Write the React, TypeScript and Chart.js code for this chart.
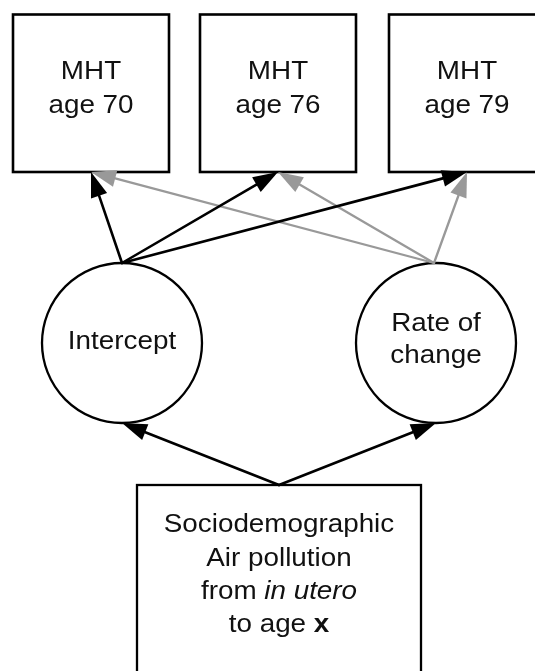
import { useEffect, useRef } from "react";
import { Chart, registerables } from "chart.js";

Chart.register(...registerables);

// ---------------- DATA ----------------
type Seg = { t: string; s?: "italic" | "bold" };

const outcomeNames = ["MHT age 70", "MHT age 76", "MHT age 79"];
const outcomeLabelLines: string[][] = [
  ["MHT", "age 70"],
  ["MHT", "age 76"],
  ["MHT", "age 79"],
];
const latentNames = ["Intercept", "Rate of change"];
const latentLabelLines: string[][] = [["Intercept"], ["Rate of", "change"]];
const predictorName = "Predictors";
const predictorLabelLines: Seg[][] = [
  [{ t: "Sociodemographic" }],
  [{ t: "Air pollution" }],
  [{ t: "from " }, { t: "in utero", s: "italic" }],
  [{ t: "to age " }, { t: "x", s: "bold" }],
];
// structural paths (from -> to)
const pathFrom = [
  "Predictors", "Predictors",
  "Rate of change", "Rate of change", "Rate of change",
  "Intercept", "Intercept", "Intercept",
];
const pathTo = [
  "Intercept", "Rate of change",
  "MHT age 70", "MHT age 76", "MHT age 79",
  "MHT age 70", "MHT age 76", "MHT age 79",
];
const pathKind = ["black", "black", "gray", "gray", "gray", "black", "black", "black"];

// ---------------- LAYOUT (plot units = page px) ----------------
const W = 535;
const H = 671;
const outcomeCenterX = [91, 278, 467];
const OUT_TOP = 14.5;
const OUT_BOTTOM = 172;
const OUT_HALF = 78;
const outcomeBaselines = [79, 113];
const latentCenterX = [122, 436];
const latentTopAnchorX = [122, 434];
const LAT_Y = 343;
const LAT_R = 80;
const latentBaselines: number[][] = [[349], [331, 363]];
const PRED_LEFT = 137;
const PRED_RIGHT = 421;
const PRED_TOP = 485;
const PRED_BOTTOM = 720;
const predictorBaselines = [532, 565.5, 599, 632];

const FONT_FAMILY = '"Liberation Sans", Arial, Helvetica, sans-serif';
const FONT_SIZE = 26;
const TEXT_STRETCH = 1.07;
const TEXT_COLOR = "#111111";
const BLACK = "#000000";
const GRAY = "#999999";
const HEAD_LEN = 25;
const HEAD_HALF = 8.5;

export default function App() {
  const canvasRef = useRef<HTMLCanvasElement | null>(null);

  useEffect(() => {
    document.body.style.margin = "0";
    const canvas = canvasRef.current;
    if (!canvas) return;

    const diagramPlugin = {
      id: "pathDiagram",
      beforeDraw(chart: any) {
        const c = chart.ctx as CanvasRenderingContext2D;
        c.save();
        c.fillStyle = "#ffffff";
        c.fillRect(0, 0, chart.width, chart.height);
        c.restore();
      },
      afterDraw(chart: any) {
        const c = chart.ctx as CanvasRenderingContext2D;
        const xs = chart.scales.x;
        const ys = chart.scales.y;
        const px = (v: number) => xs.getPixelForValue(v);
        const py = (v: number) => ys.getPixelForValue(v);
        const kx = Math.abs(px(1) - px(0));

        const outIdx = (n: string) => outcomeNames.indexOf(n);
        const latIdx = (n: string) => latentNames.indexOf(n);
        const startOf = (n: string): [number, number] => {
          if (n === predictorName) return [px((PRED_LEFT + PRED_RIGHT) / 2), py(PRED_TOP)];
          const li = latIdx(n);
          return [px(latentTopAnchorX[li]), py(LAT_Y - LAT_R)];
        };
        const endOf = (n: string): [number, number] => {
          const oi = outIdx(n);
          if (oi >= 0) return [px(outcomeCenterX[oi]), py(OUT_BOTTOM)];
          const li = latIdx(n);
          return [px(latentCenterX[li]), py(LAT_Y + LAT_R)];
        };

        const arrow = (x1: number, y1: number, x2: number, y2: number, color: string, lw: number) => {
          const a = Math.atan2(y2 - y1, x2 - x1);
          const bx = x2 - HEAD_LEN * Math.cos(a);
          const by = y2 - HEAD_LEN * Math.sin(a);
          c.save();
          c.strokeStyle = color;
          c.fillStyle = color;
          c.lineWidth = lw;
          c.lineCap = "round";
          c.beginPath();
          c.moveTo(x1, y1);
          c.lineTo(bx, by);
          c.stroke();
          c.beginPath();
          c.moveTo(x2, y2);
          c.lineTo(bx + HEAD_HALF * Math.sin(a), by - HEAD_HALF * Math.cos(a));
          c.lineTo(bx - HEAD_HALF * Math.sin(a), by + HEAD_HALF * Math.cos(a));
          c.closePath();
          c.fill();
          c.restore();
        };

        const drawLine = (segs: Seg[], cx: number, base: number) => {
          const fontFor = (s?: string) =>
            `${s === "italic" ? "italic " : ""}${s === "bold" ? "bold " : ""}${FONT_SIZE}px ${FONT_FAMILY}`;
          c.save();
          c.fillStyle = TEXT_COLOR;
          c.textBaseline = "alphabetic";
          c.textAlign = "left";
          let total = 0;
          const widths = segs.map((sg) => {
            c.font = fontFor(sg.s);
            const w = c.measureText(sg.t).width;
            total += w;
            return w;
          });
          c.translate(cx, base);
          c.scale(TEXT_STRETCH, 1);
          let x = -total / 2;
          segs.forEach((sg, i) => {
            c.font = fontFor(sg.s);
            c.fillText(sg.t, x, 0);
            x += widths[i];
          });
          c.restore();
        };

        // boxes
        c.save();
        c.strokeStyle = BLACK;
        c.lineWidth = 2.6;
        outcomeCenterX.forEach((cx) => {
          c.strokeRect(px(cx - OUT_HALF), py(OUT_TOP), px(cx + OUT_HALF) - px(cx - OUT_HALF), py(OUT_BOTTOM) - py(OUT_TOP));
        });
        c.lineWidth = 2.3;
        c.strokeRect(px(PRED_LEFT), py(PRED_TOP), px(PRED_RIGHT) - px(PRED_LEFT), py(PRED_BOTTOM) - py(PRED_TOP));
        // circles
        c.lineWidth = 2.3;
        latentCenterX.forEach((cx) => {
          c.beginPath();
          c.arc(px(cx), py(LAT_Y), LAT_R * kx, 0, Math.PI * 2);
          c.stroke();
        });
        c.restore();

        // paths: gray first, then black
        ["gray", "black"].forEach((kind) => {
          pathFrom.forEach((from, i) => {
            if (pathKind[i] !== kind) return;
            const [x1, y1] = startOf(from);
            const [x2, y2] = endOf(pathTo[i]);
            arrow(x1, y1, x2, y2, kind === "gray" ? GRAY : BLACK, kind === "gray" ? 2.3 : 2.6);
          });
        });

        // labels
        outcomeLabelLines.forEach((lines, i) => {
          lines.forEach((ln, j) => drawLine([{ t: ln }], px(outcomeCenterX[i]), py(outcomeBaselines[j])));
        });
        latentLabelLines.forEach((lines, i) => {
          lines.forEach((ln, j) => drawLine([{ t: ln }], px(latentCenterX[i]), py(latentBaselines[i][j])));
        });
        predictorLabelLines.forEach((segs, j) =>
          drawLine(segs, px((PRED_LEFT + PRED_RIGHT) / 2), py(predictorBaselines[j]))
        );
      },
    };

    const chart = new Chart(canvas, {
      type: "scatter",
      data: { datasets: [{ data: [], pointRadius: 0 }] },
      options: {
        animation: false,
        responsive: true,
        maintainAspectRatio: false,
        layout: { padding: 0 },
        plugins: { legend: { display: false }, tooltip: { enabled: false }, title: { display: false } },
        scales: {
          x: { type: "linear", min: 0, max: W, display: false },
          y: { type: "linear", min: 0, max: H, reverse: true, display: false },
        },
      },
      plugins: [diagramPlugin],
    });
    return () => chart.destroy();
  }, []);

  return (
    <div style={{ position: "fixed", left: 0, top: 0, width: W, height: H }}>
      <canvas ref={canvasRef} />
    </div>
  );
}
